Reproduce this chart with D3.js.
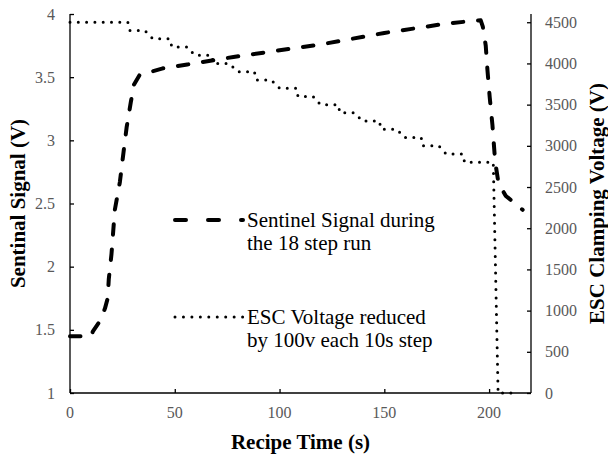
<!DOCTYPE html>
<html>
<head>
<meta charset="utf-8">
<script src="https://cdn.jsdelivr.net/npm/d3@7"></script>
<style>
	body { margin: 0; background: #fff; }
	svg { display: block; font-family: "Liberation Serif", "Times New Roman", serif; }
	.ticklabel { font-size: 16px; fill: #595959; }
	.axistitle { font-size: 21px; font-weight: bold; fill: #000; }
	.legendtext { font-size: 21px; fill: #000; }
</style>
</head>
<body>
<div id="chart"></div>
<script>
// Sentinel signal (left axis, V)
var sentinelTime = [0, 10, 11, 14.3, 16.7, 18, 18.5, 19.8, 21.4, 23.8, 25.5, 27, 29, 30.5, 33.3, 38, 44.3, 56,
	78, 120, 150, 166, 178, 189, 196, 197, 198.4, 199.2, 200.3, 201.6, 202.9, 204.5, 208, 216];
var sentinelSignal = [1.45, 1.45, 1.49, 1.57, 1.67, 1.75, 1.9, 2.1, 2.45, 2.67, 2.9, 3.1, 3.3, 3.44, 3.52, 3.54, 3.57, 3.6,
	3.66, 3.76, 3.85, 3.89, 3.92, 3.94, 3.95, 3.9, 3.75, 3.56, 3.34, 3.12, 2.83, 2.66, 2.56, 2.45];

// ESC clamping voltage (right axis, V)
var escTime = [0, 27.6, 28.6, 35.7, 39.5, 47.6, 48.6, 56, 59.5, 67.6, 68.5, 76, 80, 88, 88.8, 96, 100, 108, 108.8, 116,
	119.5, 128, 128.8, 136, 139.5, 147.6, 148.5, 156, 159.5, 167.6, 168.3, 176, 179.5, 187.5, 188.3, 202, 204.3, 213];
var escVoltage = [4500, 4500, 4400, 4400, 4300, 4300, 4200, 4200, 4100, 4100, 4000, 4000, 3900, 3900, 3800, 3800, 3700, 3700, 3600, 3600,
	3500, 3500, 3400, 3400, 3300, 3300, 3200, 3200, 3100, 3100, 3000, 3000, 2900, 2900, 2800, 2800, 0, 0];

// Tick values
var timeTicks = [0, 50, 100, 150, 200];
var signalTicks = [1, 1.5, 2, 2.5, 3, 3.5, 4];
var voltageTicks = [0, 500, 1000, 1500, 2000, 2500, 3000, 3500, 4000, 4500];

// Legend
var legendLabels = [["Sentinel Signal during", "the 18 step run"], ["ESC Voltage reduced", "by 100v each 10s step"]];

var width = 608, height = 455;
var plotLeft = 70, plotRight = 531, plotTop = 14, plotBottom = 393;

var svg = d3.select("#chart").append("svg")
	.attr("width", width)
	.attr("height", height);

var x = d3.scaleLinear().domain([0, 220]).range([plotLeft, plotRight]);
var yLeft = d3.scaleLinear().domain([1, 4]).range([plotBottom, plotTop]);
var yRight = d3.scaleLinear().domain([0, 4600]).range([plotBottom, plotTop]);

// Axes, ticks pointing into the plot
var xAxis = svg.append("g")
	.attr("transform", "translate(0," + plotBottom + ")")
	.call(d3.axisTop(x).tickValues(timeTicks).tickSize(4).tickFormat(""));
var leftAxis = svg.append("g")
	.attr("transform", "translate(" + plotLeft + ",0)")
	.call(d3.axisRight(yLeft).tickValues(signalTicks).tickSize(4).tickFormat(""));
var rightAxis = svg.append("g")
	.attr("transform", "translate(" + plotRight + ",0)")
	.call(d3.axisLeft(yRight).tickValues(voltageTicks).tickSize(4).tickFormat(""));

[xAxis, leftAxis, rightAxis].forEach(function(a) {
	a.selectAll(".domain").attr("stroke", "#000").attr("stroke-width", 1.3);
	a.selectAll(".tick line").attr("stroke", "#000").attr("stroke-width", 1.3);
});
xAxis.select(".domain").attr("d", "M" + plotLeft + ",0H" + plotRight);
leftAxis.select(".domain").attr("d", "M0," + plotTop + "V" + plotBottom);
rightAxis.select(".domain").attr("d", "M0," + plotTop + "V" + plotBottom);

// Tick labels
svg.selectAll(".xlabel")
	.data(timeTicks)
	.enter().append("text")
	.attr("class", "ticklabel")
	.attr("x", function(d) { return x(d); })
	.attr("y", plotBottom + 25)
	.attr("text-anchor", "middle")
	.text(function(d) { return d; });

svg.selectAll(".ylabel")
	.data(signalTicks)
	.enter().append("text")
	.attr("class", "ticklabel")
	.attr("x", plotLeft - 15)
	.attr("y", function(d) { return yLeft(d) + 5.5; })
	.attr("text-anchor", "end")
	.text(function(d) { return d; });

svg.selectAll(".y2label")
	.data(voltageTicks)
	.enter().append("text")
	.attr("class", "ticklabel")
	.attr("x", plotRight + 14)
	.attr("y", function(d) { return yRight(d) + 5.5; })
	.attr("text-anchor", "start")
	.text(function(d) { return d; });

// Axis titles
svg.append("text")
	.attr("class", "axistitle")
	.attr("x", (plotLeft + plotRight) / 2)
	.attr("y", 449)
	.attr("text-anchor", "middle")
	.text("Recipe Time (s)");

svg.append("text")
	.attr("class", "axistitle")
	.attr("transform", "translate(25," + (plotTop + plotBottom) / 2 + ") rotate(-90)")
	.attr("text-anchor", "middle")
	.text("Sentinal Signal (V)");

svg.append("text")
	.attr("class", "axistitle")
	.attr("transform", "translate(604," + (plotTop + plotBottom) / 2 + ") rotate(-90)")
	.attr("text-anchor", "middle")
	.text("ESC Clamping Voltage (V)");

// Series lines
var signalLine = d3.line()
	.x(function(d, i) { return x(sentinelTime[i]); })
	.y(function(d) { return yLeft(d); });

var voltageLine = d3.line()
	.x(function(d, i) { return x(escTime[i]); })
	.y(function(d) { return yRight(d); });

svg.append("path")
	.attr("d", voltageLine(escVoltage))
	.attr("fill", "none")
	.attr("stroke", "#000")
	.attr("stroke-width", 3)
	.attr("stroke-linecap", "round")
	.attr("stroke-dasharray", "0,8.3");

svg.append("path")
	.attr("d", signalLine(sentinelSignal))
	.attr("fill", "none")
	.attr("stroke", "#000")
	.attr("stroke-width", 4)
	.attr("stroke-linecap", "round")
	.attr("stroke-linejoin", "round")
	.attr("stroke-dasharray", "10.5,14.8");

// Legend
var legendY = [220, 317];
var legendDash = ["11,22", "0,8.45"];
var legendWidth = [4, 3];

legendLabels.forEach(function(lines, i) {
	svg.append("line")
		.attr("x1", 175).attr("x2", 243)
		.attr("y1", legendY[i]).attr("y2", legendY[i])
		.attr("stroke", "#000")
		.attr("stroke-width", legendWidth[i])
		.attr("stroke-linecap", "round")
		.attr("stroke-dasharray", legendDash[i]);

	lines.forEach(function(t, j) {
		svg.append("text")
			.attr("class", "legendtext")
			.attr("x", 247)
			.attr("y", legendY[i] + 7 + j * 23)
			.text(t);
	});
});
</script>
</body>
</html>
